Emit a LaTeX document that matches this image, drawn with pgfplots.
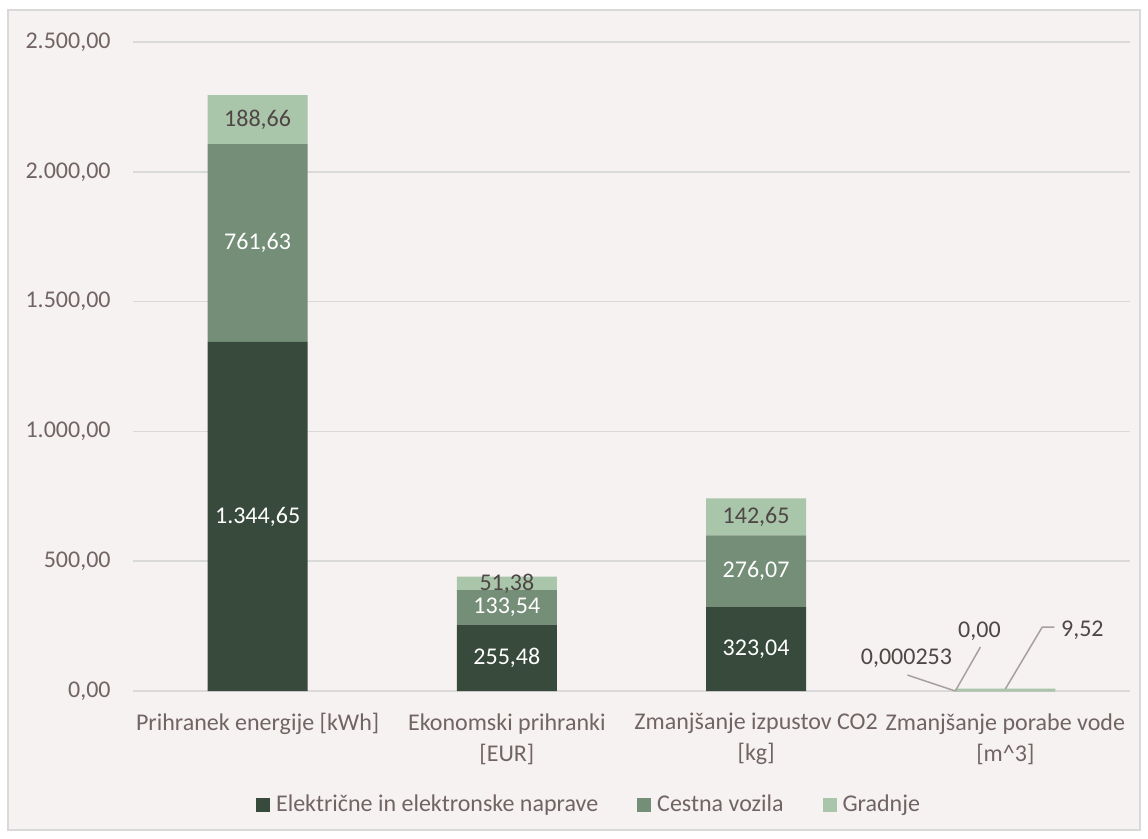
\documentclass[border=0pt]{standalone}
\usepackage{pgfplots}
\pgfplotsset{compat=1.18}
\usepackage{fontspec}
\setmainfont{Carlito}
\definecolor{cA}{HTML}{374A3B}
\definecolor{cB}{HTML}{748E77}
\definecolor{cC}{HTML}{A9C6AA}
\definecolor{bg}{HTML}{F6F2F1}
\definecolor{frame}{HTML}{D9D9D9}
\definecolor{tick}{HTML}{716464}
\definecolor{lab}{HTML}{4F4646}
\definecolor{lead}{HTML}{A89F9F}
\begin{document}
\fontsize{12bp}{15.5bp}\selectfont
\begin{tikzpicture}[font=\fontsize{12bp}{15.5bp}\selectfont]
\path (0bp,0bp) rectangle (574bp,-419.5bp);
\fill[bg] (4bp,-5bp) rectangle (570bp,-415bp);
\draw[frame, line width=0.75bp] (4bp,-5bp) rectangle (570bp,-415bp);
\begin{axis}[
  at={(66.5bp,-345.5bp)}, anchor=south west,
  scale only axis, width=498.5bp, height=324.5bp,
  ybar stacked, bar width=50bp,
  xmin=-0.5, xmax=3.5, ymin=0, ymax=2500,
  xtick={0,1,2,3},
  xticklabels={Prihranek energije [kWh], {Ekonomski prihranki\\{[EUR]}}, {Zmanjšanje izpustov CO2\\{[kg]}}, {Zmanjšanje porabe vode\\{[m\textasciicircum 3]}}},
  xticklabel style={align=center, text=tick, anchor=north, inner sep=0pt, yshift=-11bp, font=\fontsize{12bp}{15.5bp}\selectfont},
  ytick={0,500,1000,1500,2000,2500},
  yticklabel style={text=tick, anchor=east, inner sep=0pt, xshift=-11bp},
  /pgf/number format/.cd, use comma, 1000 sep={.}, fixed, fixed zerofill, precision=2, assume math mode=true,
  /pgfplots/.cd,
  ymajorgrids, grid style={frame, line width=0.75bp},
  axis line style={draw=none},
  major tick length=0pt,
  legend columns=3,
  legend style={at={(0.4564,-0.1756)}, anchor=center, draw=none, fill=none,
    text=tick, /tikz/every even column/.style={column sep=19.5bp},
    /tikz/every odd column/.style={column sep=3bp},
    nodes={inner sep=0pt}},
  legend image code/.code={\fill[#1] (0bp,-3.5bp) rectangle (7bp,3.5bp);},
]
\addplot[fill=cA, draw=none] coordinates {(0,1344.65) (1,255.48) (2,323.04) (3,0.000253)};
\addplot[fill=cB, draw=none] coordinates {(0,761.63) (1,133.54) (2,276.07) (3,0.0)};
\addplot[fill=cC, draw=none] coordinates {(0,188.66) (1,51.38) (2,142.65) (3,9.52)};
\legend{Električne in elektronske naprave, Cestna vozila, Gradnje}
\end{axis}
\begin{axis}[
  at={(66.5bp,-345.5bp)}, anchor=south west,
  scale only axis, width=498.5bp, height=324.5bp,
  xmin=-0.5, xmax=3.5, ymin=0, ymax=2500,
  hide axis, clip=false,
]
\addplot[draw=none, nodes near coords, point meta=explicit symbolic,
  every node near coord/.style={anchor=center, text=white, inner sep=0pt}]
  table[meta=l, header=true] {
x y l
0 672.3 1.344,65
0 1725.5 761,63
1 127.7 255,48
1 322.3 133,54
2 161.5 323,04
2 461.1 276,07
};
\addplot[draw=none, nodes near coords, point meta=explicit symbolic,
  every node near coord/.style={anchor=center, text=lab, inner sep=0pt}]
  table[meta=l, header=true] {
x y l
0 2200.6 188,66
1 411.0 51,38
2 670.4 142,65
2.603 127 0,000253
2.896 231 0,00
3.309 235 9,52
};
\addplot[lead, line width=0.75bp] coordinates {(2.607,61.6) (2.799,0)};
\addplot[lead, line width=0.75bp] coordinates {(2.900,169.5) (2.799,0)};
\addplot[lead, line width=0.75bp] coordinates {(3.0,8) (3.148,246.5) (3.197,246.5)};
\end{axis}
\end{tikzpicture}
\end{document}
